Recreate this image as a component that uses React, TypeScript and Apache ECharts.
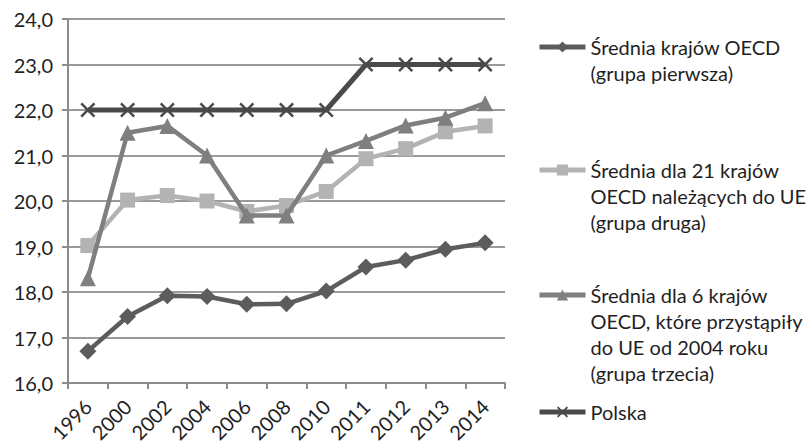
import React, { useEffect, useRef } from "react";
import * as echarts from "echarts";

const categories = ["1996", "2000", "2002", "2004", "2006", "2008", "2010", "2011", "2012", "2013", "2014"];
const grupa1 = [16.7, 17.46, 17.92, 17.9, 17.73, 17.74, 18.02, 18.55, 18.7, 18.94, 19.08];
const grupa2 = [19.02, 20.02, 20.12, 20.0, 19.77, 19.9, 20.21, 20.93, 21.15, 21.52, 21.65];
const grupa3 = [18.3, 21.5, 21.65, 21.0, 19.68, 19.68, 21.0, 21.32, 21.66, 21.83, 22.15];
const polska = [22, 22, 22, 22, 22, 22, 22, 23, 23, 23, 23];

const names = [
  "Średnia krajów OECD\n(grupa pierwsza)",
  "Średnia dla 21 krajów\nOECD należących do UE\n(grupa druga)",
  "Średnia dla 6 krajów\nOECD, które przystąpiły\ndo UE od 2004 roku\n(grupa trzecia)",
  "Polska",
];
const colors = ["#5c5c5c", "#b3b3b3", "#7f7f7f", "#4a4a4a"];
const lineCounts = [2, 3, 4, 1];
const iconY = [47, 170, 295, 412];

const FONT = "Lato, 'Open Sans', sans-serif";
const LH = 26;
const CROSS = "path://M0,1.2 L1.2,0 L5,3.8 L8.8,0 L10,1.2 L6.2,5 L10,8.8 L8.8,10 L5,6.2 L1.2,10 L0,8.8 L3.8,5 Z";

export default function App() {
  const ref = useRef<HTMLDivElement>(null);
  useEffect(() => {
    if (!ref.current) return;
    const chart = echarts.init(ref.current, undefined, { renderer: "svg" });
    const seriesData = [grupa1, grupa2, grupa3, polska];
    const symbols = ["diamond", "rect", "triangle", CROSS];
    const sizes = [17, 15, 16, 15];
    chart.setOption({
      animation: false,
      backgroundColor: "#ffffff",
      grid: { left: 68, right: 304, top: 19, bottom: 63, containLabel: false },
      xAxis: {
        type: "category",
        data: categories,
        boundaryGap: true,
        axisLine: { lineStyle: { color: "#8c8c8c", width: 2 } },
        axisTick: { show: true, alignWithLabel: false, length: 6, lineStyle: { color: "#8c8c8c", width: 2 } },
        axisLabel: {
          rotate: 45,
          interval: 0,
          fontFamily: FONT,
          fontSize: 20,
          color: "#1f1f1f",
          margin: 20,
        },
      },
      yAxis: {
        type: "value",
        min: 16,
        max: 24,
        interval: 1,
        axisLine: { show: true, lineStyle: { color: "#8c8c8c", width: 2 } },
        axisTick: { show: true, length: 6, lineStyle: { color: "#8c8c8c", width: 2 } },
        splitLine: { lineStyle: { color: "#9a9a9a", width: 2 } },
        axisLabel: {
          fontFamily: FONT,
          fontSize: 20,
          color: "#1f1f1f",
          margin: 15,
          formatter: (v: number) => v.toFixed(1).replace(".", ","),
        },
      },
      legend: names.map((n, i) => ({
        data: [n],
        orient: "vertical",
        left: 537,
        top: iconY[i] - ((2 * lineCounts[i] - 1) * LH) / 2,
        padding: 0,
        itemWidth: 46,
        itemHeight: 14,
        itemGap: 0,
        lineStyle: { width: 5 },
        formatter: (name: string) => "\n".repeat(lineCounts[i] - 1) + name,
        textStyle: {
          fontFamily: FONT,
          fontSize: 20,
          lineHeight: LH,
          color: "#1f1f1f",
        },
      })),
      series: seriesData.map((d, i) => ({
        name: names[i],
        type: "line",
        data: d,
        symbol: symbols[i],
        symbolSize: sizes[i],
        showSymbol: true,
        lineStyle: { color: colors[i], width: i === 3 ? 5 : 4.5 },
        itemStyle: { color: colors[i] },
        z: i === 3 ? 1 : 2 + i,
      })),
    });
    return () => chart.dispose();
  }, []);
  return <div ref={ref} style={{ width: 809, height: 446, position: "absolute", left: 0, top: 0 }} />;
}
